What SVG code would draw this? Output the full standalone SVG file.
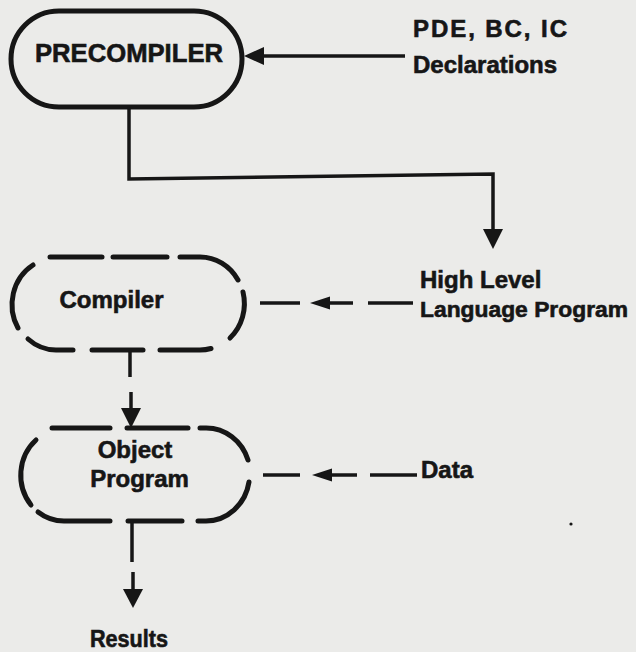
<svg xmlns="http://www.w3.org/2000/svg" width="636" height="652" viewBox="0 0 636 652">
<style>
.t{font-family:"Liberation Sans",Arial,sans-serif;font-weight:bold;font-size:24px;fill:#161616;stroke:#161616;stroke-width:0.6}
.box{fill:none;stroke:#161616;stroke-width:5;stroke-linecap:round}
.dash{fill:none;stroke:#161616;stroke-width:5;stroke-linecap:round}
.ln{fill:none;stroke:#161616;stroke-width:3.5}
.head{fill:#161616;stroke:none}
</style>
<rect width="636" height="652" fill="#ebebe9"/>

<g id="node-precompiler">
<rect class="box" x="11" y="11" width="231" height="96" rx="48" ry="48"/>
<text class="t" x="35" y="62" style="font-size:26px" textLength="188" lengthAdjust="spacingAndGlyphs">PRECOMPILER</text>
</g>

<g id="node-declarations">
<text class="t" x="413" y="37" textLength="154" lengthAdjust="spacing">PDE, BC, IC</text>
<text class="t" x="413" y="73">Declarations</text>
</g>

<g id="node-compiler">
<path class="dash" d="M50,257 H102"/>
<path class="dash" d="M113,257 H167"/>
<path class="dash" d="M180,257 H200 A44,46.5 0 0 1 238,280"/>
<path class="dash" d="M243,292 A44,46.5 0 0 1 230,338"/>
<path class="dash" d="M211,348.5 A44,46.5 0 0 1 200,350 H160"/>
<path class="dash" d="M92,350 H143"/>
<path class="dash" d="M73,350 H56 A44,46.5 0 0 1 28,339"/>
<path class="dash" d="M18,328 A44,46.5 0 0 1 33,265"/>
<text class="t" x="111.5" y="308" text-anchor="middle">Compiler</text>
</g>

<g id="node-highlevel">
<text class="t" x="420" y="288">High  Level</text>
<text class="t" x="420" y="317" style="font-size:22px" textLength="208" lengthAdjust="spacingAndGlyphs">Language Program</text>
</g>

<g id="node-object">
<path class="dash" d="M52,428 H110"/>
<path class="dash" d="M127,428 H188"/>
<path class="dash" d="M200,428 H206 A44,46.5 0 0 1 248,460"/>
<path class="dash" d="M249,482 A44,46.5 0 0 1 206,521 H198"/>
<path class="dash" d="M128,521 H182"/>
<path class="dash" d="M110,521 H64 A44,46.5 0 0 1 38,512"/>
<path class="dash" d="M31,505 A44,46.5 0 0 1 36,440"/>
<text class="t" x="135" y="458" text-anchor="middle">Object</text>
<text class="t" x="139.5" y="487" text-anchor="middle">Program</text>
</g>

<g id="node-data">
<text class="t" x="421" y="478">Data</text>
</g>

<g id="node-results">
<text class="t" x="90" y="647" style="font-size:23px" textLength="78" lengthAdjust="spacingAndGlyphs">Results</text>
</g>

<g id="connectors">
<!-- declarations to precompiler -->
<path class="ln" d="M405,56 H260"/>
<polygon class="head" points="244,56 264,47 264,65"/>
<!-- precompiler to high level program -->
<path class="ln" d="M129,107 V179 L493,174 V232"/>
<polygon class="head" points="483,229 503,229 493,249"/>
<!-- high level program to compiler (dashed) -->
<path class="ln" d="M260,303 H300"/>
<path class="ln" d="M326,303 H353"/>
<polygon class="head" points="310,303 330,296.5 330,309.5"/>
<path class="ln" d="M368,303 H413"/>
<!-- compiler to object program (dashed) -->
<path class="ln" d="M130,350 V377"/>
<path class="ln" d="M131,392 V410"/>
<polygon class="head" points="121,408 141,408 131,428"/>
<!-- data to object program (dashed) -->
<path class="ln" d="M263,475 H300"/>
<path class="ln" d="M328,475 H357"/>
<polygon class="head" points="312,475 332,468.5 332,481.5"/>
<path class="ln" d="M370,475 H417"/>
<!-- object program to results (dashed) -->
<path class="ln" d="M132,521 V562"/>
<path class="ln" d="M133,572 V592"/>
<polygon class="head" points="123,589 143,589 133,608"/>
</g>

<circle cx="571" cy="524" r="1.6" fill="#161616"/>
</svg>
